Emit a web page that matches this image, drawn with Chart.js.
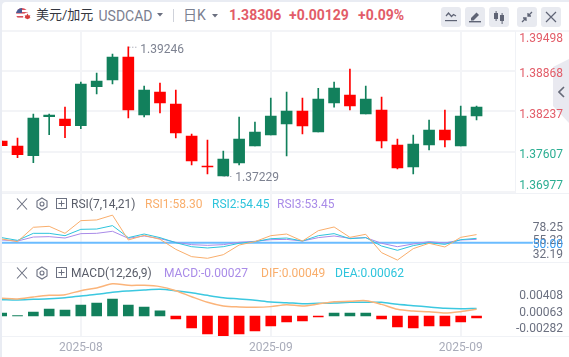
<!DOCTYPE html>
<html>
<head>
<meta charset="utf-8">
<title>USDCAD</title>
<script src="https://cdn.jsdelivr.net/npm/chart.js@4"></script>
<style>
html, body { margin: 0; padding: 0; width: 569px; height: 357px; overflow: hidden; background: #e9ecf3; }
body { font-family: Roboto, "Noto Sans CJK SC", sans-serif; position: relative; }
#panel { position: absolute; left: 2px; top: 2px; width: 567px; height: 355px; background: #fff; border-top-left-radius: 4px; }
canvas { position: absolute; left: 2px; }
.t { position: absolute; white-space: nowrap; line-height: 16px; font-size: 12px; }
.h { position: absolute; background: #f0f2f6; height: 1px; left: 2px; width: 567px; }
.btn { position: absolute; top: 7px; width: 20px; height: 20px; background: #e8eaf0; border-radius: 3px; }
.btn svg, .ico { position: absolute; left: 0; top: 0; }
#tab { position: absolute; left: 553px; top: 59px; width: 16px; height: 64px; background: #e9e9f0; clip-path: polygon(0 8px, 100% 0, 100% 100%, 0 47px); }
#overlay { position: absolute; left: 0; top: 0; }
</style>
</head>
<body>
<div id="panel"></div>
<div class="h" style="top:30px;height:2px;background:#f4f5f8"></div>
<div class="h" style="top:193px"></div>
<div class="h" style="top:262px"></div>
<div class="h" style="top:336px"></div>
<div style="position:absolute;left:515px;top:31px;width:1px;height:162px;background:#f0f2f6"></div>
<div id="tab"></div>
<canvas id="mainChart" width="567" height="163" style="top:30px"></canvas>
<canvas id="rsiChart" width="567" height="69" style="top:193px"></canvas>
<canvas id="macdChart" width="567" height="95" style="top:262px"></canvas>
<div id="overlay"></div>
<script>
// daily candles
const opens = [1.37775, 1.37697, 1.37546, 1.38154, 1.38118, 1.38014, 1.38622, 1.38727, 1.39085, 1.38181, 1.38539, 1.38352, 1.37853, 1.37385, 1.37229, 1.37432, 1.37697, 1.37869, 1.38040, 1.38243, 1.37915, 1.38368, 1.38493, 1.38196, 1.38259, 1.37713, 1.37369, 1.37713, 1.37947, 1.37697, 1.38165];
const closes = [1.37702, 1.37561, 1.38134, 1.38181, 1.38014, 1.38664, 1.38711, 1.39085, 1.38259, 1.38571, 1.38368, 1.37900, 1.37463, 1.37369, 1.37494, 1.37806, 1.37915, 1.38165, 1.38243, 1.38009, 1.38430, 1.38602, 1.38321, 1.38430, 1.37775, 1.37354, 1.37728, 1.37947, 1.37791, 1.38165, 1.38306];
const highs = [1.37775, 1.37822, 1.38196, 1.38196, 1.38305, 1.38695, 1.38836, 1.39132, 1.39246, 1.38633, 1.38680, 1.38571, 1.37884, 1.37791, 1.37619, 1.38149, 1.38071, 1.38446, 1.38539, 1.38446, 1.38597, 1.38695, 1.38898, 1.38633, 1.38461, 1.37806, 1.37869, 1.38103, 1.38259, 1.38321, 1.38321];
const lows = [1.37702, 1.37515, 1.37437, 1.37873, 1.37827, 1.37967, 1.38508, 1.38664, 1.38134, 1.38149, 1.38212, 1.37822, 1.37401, 1.37260, 1.37229, 1.37401, 1.37697, 1.37869, 1.37541, 1.37884, 1.37915, 1.38305, 1.38259, 1.38196, 1.37666, 1.37338, 1.37260, 1.37635, 1.37681, 1.37697, 1.38103];

const rsi1 = [53.8, 51.1, 65.8, 66.8, 59.6, 72.6, 73.3, 78.25, 52.8, 57.5, 53.5, 43.2, 35.7, 34.0, 37.7, 47.6, 51.1, 57.2, 58.9, 51.7, 62.3, 66.1, 55.5, 58.6, 39.8, 32.19, 43.9, 49.4, 45.6, 55.5, 58.30];
const rsi2 = [55.2, 52.4, 59.6, 59.6, 57.2, 63.7, 64.0, 67.5, 55.2, 58.9, 55.2, 50.0, 45.9, 44.6, 45.9, 49.4, 51.1, 54.1, 54.8, 51.7, 57.2, 59.3, 54.1, 55.2, 46.6, 42.2, 47.0, 50.0, 48.3, 53.1, 54.45];
const rsi3 = [52.8, 51.7, 55.8, 56.2, 54.8, 59.3, 59.6, 61.7, 54.5, 56.9, 54.1, 50.4, 48.0, 47.3, 48.0, 50.4, 51.4, 53.1, 53.4, 51.7, 55.2, 56.9, 54.5, 55.2, 49.4, 45.9, 48.7, 51.1, 49.7, 52.8, 53.45];

const macdBars = [0.00042, 0.00007, 0.00056, 0.00099, 0.00085, 0.00155, 0.00183, 0.0024, 0.00155, 0.00127, 0.00071, -0.00042, -0.00169, -0.00254, -0.00282, -0.00254, -0.00212, -0.00141, -0.00085, -0.00071, -0.00014, 0.00042, 0.00042, 0.00042, -0.00042, -0.00155, -0.00169, -0.00141, -0.00141, -0.00085, -0.00027];
const dif = [0.00204, 0.00195, 0.00223, 0.00246, 0.00256, 0.00312, 0.0035, 0.00408, 0.00387, 0.00387, 0.00369, 0.00312, 0.00227, 0.00148, 0.00096, 0.00082, 0.00077, 0.00087, 0.00115, 0.00096, 0.00124, 0.00157, 0.00162, 0.00171, 0.00119, 0.00049, 0.00025, 0.00016, -0.00003, 0.00016, 0.00049];
const dea = [0.00185, 0.00181, 0.0019, 0.00199, 0.00213, 0.00237, 0.0026, 0.00289, 0.00307, 0.00321, 0.00331, 0.00312, 0.00284, 0.00246, 0.00213, 0.00195, 0.00176, 0.00152, 0.00143, 0.00129, 0.00134, 0.00138, 0.00148, 0.00148, 0.00148, 0.00119, 0.00101, 0.00082, 0.00063, 0.00058, 0.00062];

const priceTicks = [1.39498, 1.38868, 1.38237, 1.37607, 1.36977];
const rsiTicks = [78.25, 55.22, 50, 32.19];
const macdTicks = [0.00408, 0.00063, -0.00282];
const xTickIndex = [5, 17, 29];
const xTickLabels = ['2025-08', '2025-09', '2025-09'];
const rsiMid = 50;

const GREEN = '#12805c';
const RED = '#ff0000';
const GRID = '#f3f4f7';
const FONT = { family: 'Roboto', size: 12 };
const xMin = 0.02, xMax = 32.46;
const idx = opens.map((v, i) => i);

function xAxis(show) {
    return {
        type: 'linear', min: xMin, max: xMax, offset: false,
        border: { display: false },
        grid: { color: GRID, lineWidth: 2, drawTicks: false, offset: false },
        afterBuildTicks: s => { s.ticks = xTickIndex.map(v => ({ value: v })); },
        afterFit: s => { s.paddingLeft = 0; s.paddingRight = 0; if (show) s.height = 21; },
        ticks: { display: show, autoSkip: false, maxRotation: 0, padding: 5, color: '#a9acba', font: FONT, callback: (v, i) => xTickLabels[i] }
    };
}
// hidden value axis, only used for mapping
function hiddenY(min, max) {
    return { type: 'linear', position: 'right', min: min, max: max, display: false };
}
// the axis that carries the tick labels on the right
function labelAxis(min, max, values, color, fmt, clamp) {
    return {
        type: 'linear', position: 'right', min: min, max: max,
        border: { display: false },
        grid: { display: false, drawTicks: false },
        afterBuildTicks: s => {
            s.ticks = values.map(v => ({ value: clamp ? Math.min(clamp[1], Math.max(clamp[0], v)) : v }));
        },
        afterFit: s => { s.width = 47.5; s.paddingTop = 0; s.paddingBottom = 0; },
        ticks: { autoSkip: false, crossAlign: 'far', padding: 0, font: FONT, color: color, callback: (v, i) => fmt(values[i]) }
    };
}
const base = { responsive: false, animation: false, layout: { padding: { right: 6 } }, events: [],
    plugins: { legend: { display: false }, tooltip: { enabled: false } } };

// small dotted marker for the highest and lowest price
const extremes = {
    id: 'extremes',
    afterDatasetsDraw(chart) {
        const { ctx, scales } = chart;
        const hi = highs.indexOf(Math.max(...highs));
        const lo = lows.indexOf(Math.min(...lows));
        ctx.save();
        ctx.font = '12px Roboto';
        ctx.textBaseline = 'middle';
        [[hi, highs[hi], 3], [lo, lows[lo], 2]].forEach(([i, v, dy]) => {
            const x = scales.x.getPixelForValue(i);
            const y = scales.y.getPixelForValue(v);
            ctx.strokeStyle = '#8a8f9e';
            ctx.setLineDash([1, 2]);
            ctx.beginPath();
            ctx.moveTo(x + 1, y + 0.5);
            ctx.lineTo(x + 10, y + 0.5);
            ctx.stroke();
            ctx.fillStyle = '#7d8291';
            ctx.fillText(v.toFixed(5), x + 12, y + dy);
        });
        ctx.restore();
    }
};

const candleColor = i => closes[i] >= opens[i] ? GREEN : RED;
const prevClose = closes[closes.length - 2];

new Chart(document.getElementById('mainChart'), {
    type: 'bar',
    data: {
        datasets: [
            { data: idx.map(i => ({ x: i, y: [opens[i], closes[i]] })), backgroundColor: idx.map(candleColor), barThickness: 11, grouped: false, yAxisID: 'y' },
            { data: idx.map(i => ({ x: i, y: [lows[i], highs[i]] })), backgroundColor: idx.map(candleColor), barThickness: 1, grouped: false, yAxisID: 'y' }
        ]
    },
    options: Object.assign({}, base, {
        scales: {
            x: xAxis(false),
            y: {
                type: 'linear', position: 'left', min: 1.36964, max: 1.39507,
                border: { display: false },
                grid: { color: GRID, lineWidth: 2, drawTicks: false },
                afterBuildTicks: s => { s.ticks = priceTicks.map(v => ({ value: v })); },
                afterFit: s => { s.width = 0; s.paddingTop = 0; s.paddingBottom = 0; },
                ticks: { display: false }
            },
            yLabels: labelAxis(1.37021, 1.39560, priceTicks, c => priceTicks[c.index] > prevClose ? '#e25c68' : '#2bae92', v => v.toFixed(5), [1.37133, 1.39420])
        }
    }),
    plugins: [extremes]
});

const lineSet = (values, color, width, tension, axis) => ({
    type: 'line', data: idx.map(i => ({ x: i, y: values[i] })), borderColor: color, borderWidth: width,
    pointRadius: 0, tension: tension, yAxisID: axis, fill: false
});

new Chart(document.getElementById('rsiChart'), {
    type: 'line',
    data: {
        datasets: [
            lineSet(rsi1, '#f9ae6c', 1, 0, 'y'),
            lineSet(rsi2, '#2ec4dc', 1, 0, 'y'),
            lineSet(rsi3, '#a98be8', 1, 0, 'y'),
            { data: [{ x: xMin, y: rsiMid }, { x: 33.56, y: rsiMid }], borderColor: '#6bbcff', borderWidth: 2, pointRadius: 0, yAxisID: 'y', clip: false }
        ]
    },
    options: Object.assign({}, base, {
        scales: {
            x: xAxis(false),
            y: hiddenY(30.22, 100.94),
            yLabels: labelAxis(19.7, 139.2, rsiTicks, c => rsiTicks[c.index] === rsiMid ? '#3d9df0' : '#6b7080', v => v.toFixed(2))
        }
    })
});

new Chart(document.getElementById('macdChart'), {
    type: 'bar',
    data: {
        datasets: [
            lineSet(dif, '#fbb47a', 1.5, 0.3, 'yLine'),
            lineSet(dea, '#3cc8e0', 1.5, 0.3, 'yLine'),
            { data: idx.map(i => ({ x: i, y: macdBars[i] })), backgroundColor: idx.map(i => macdBars[i] >= 0 ? GREEN : RED), barThickness: 10, yAxisID: 'y' }
        ]
    },
    options: Object.assign({}, base, {
        scales: {
            x: xAxis(true),
            y: hiddenY(-0.00282, 0.00761),
            yLine: hiddenY(-0.00327, 0.00716),
            yLabels: labelAxis(-0.00425, 0.01129, macdTicks, '#6b7080', v => v.toFixed(5))
        }
    })
});

// header and pane legends
const last = a => a[a.length - 1];
const ICON = '#5f6475';
const overlay = document.getElementById('overlay');
function text(x, y, str, color, extra) {
    const d = document.createElement('div');
    d.className = 't';
    d.style.cssText = 'left:' + x + 'px;top:' + (y - 8) + 'px;color:' + color + ';' + (extra || '');
    d.textContent = str;
    overlay.appendChild(d);
}
function svg(x, y, w, h, body) {
    const d = document.createElement('div');
    d.style.cssText = 'position:absolute;left:' + x + 'px;top:' + y + 'px;width:' + w + 'px;height:' + h + 'px';
    d.innerHTML = '<svg class="ico" width="' + w + '" height="' + h + '" viewBox="0 0 ' + w + ' ' + h + '">' + body + '</svg>';
    overlay.appendChild(d);
}
function button(x, body) {
    const d = document.createElement('div');
    d.className = 'btn';
    d.style.left = x + 'px';
    d.innerHTML = '<svg width="20" height="20" viewBox="0 0 20 20">' + body + '</svg>';
    overlay.appendChild(d);
}
const HB = 'font-weight:700;font-size:14px;';
svg(16, 8, 17, 14,
    '<clipPath id="c"><circle cx="6" cy="6" r="6"/></clipPath><g clip-path="url(#c)"><rect width="12" height="12" fill="#fff"/>' +
    '<rect y="0" width="12" height="2" fill="#d8505c"/><rect y="4" width="12" height="1.6" fill="#d8505c"/><rect y="8" width="12" height="1.6" fill="#d8505c"/><rect width="6" height="5" fill="#4a5a94"/></g>' +
    '<circle cx="11.5" cy="9" r="4.4" fill="#fff"/><path d="M11.5 5.6l1.2 2 1.6-.4-.6 2 .9.6-3.1 1.4-3.1-1.4.9-.6-.6-2 1.6.4z" fill="#d63c3c"/>');
text(36, 14.5, '美元/加元', '#33363f', 'font-size:13px;');
text(98.5, 15.5, 'USDCAD', '#7b8090', 'font-size:14px;');
svg(157, 13, 6, 4, '<path d="M0 0h6l-3 3.5z" fill="#6b7080"/>');
svg(173, 9, 1, 13, '<rect width="1" height="13" fill="#cfd2da"/>');
text(183, 14.5, '日K', '#7b8090', 'font-size:14px;');
svg(212, 14, 6, 4, '<path d="M0 0h6l-3 3.5z" fill="#6b7080"/>');
text(229, 14.5, last(closes).toFixed(5), '#e25c68', HB);
text(289, 14.5, '+0.00129', '#e25c68', HB);
text(358, 14.5, '+0.09%', '#e25c68', HB);
button(441, '<path d="M5 9l2.5-3 3 3.5 2-2 2.5 1.5" fill="none" stroke="' + ICON + '" stroke-width="1.2"/><rect x="4" y="13" width="12" height="1.2" fill="' + ICON + '"/>');
button(465, '<path d="M6 11l5.5-5.5 2.5 2.5-5.5 5.5H6z" fill="' + ICON + '"/><rect x="4" y="14" width="12" height="1.4" fill="' + ICON + '"/>');
button(489, '<rect x="5" y="6" width="4" height="6" fill="' + ICON + '"/><rect x="6.6" y="4" width="1" height="10" fill="' + ICON + '"/><rect x="11" y="8" width="4" height="6" fill="' + ICON + '"/><rect x="12.6" y="6" width="1" height="11" fill="' + ICON + '"/>');
button(517, '<path d="M15 5l-4 4M11 6v3h3M5 15l4-4M6 11h3v3" fill="none" stroke="' + ICON + '" stroke-width="1.3"/>');
button(541, '<path d="M5 5l10 10M15 5L5 15" stroke="' + ICON + '" stroke-width="1.2"/>');
svg(558, 86, 7, 12, '<path d="M6 1L1 6l5 5" fill="none" stroke="#666a78" stroke-width="1.6"/>');

function paneTools(y) {
    svg(15, y - 7, 14, 14, '<path d="M2 1.5l10 11M12 1.5L2 12.5" stroke="#6b7080" stroke-width="1.1"/>');
    svg(35, y - 7, 14, 14, '<path d="M7 1l5 3v6l-5 3-5-3V4z" fill="none" stroke="#6b7080" stroke-width="1.1"/><circle cx="7" cy="7" r="2" fill="none" stroke="#6b7080" stroke-width="1.1"/>');
    svg(56, y - 6, 12, 12, '<rect x="0.5" y="0.5" width="10" height="10" fill="none" stroke="#6b7080"/><path d="M2.5 5.5h6M5.5 2.5v6" stroke="#6b7080"/>');
}
paneTools(204);
text(71, 204, 'RSI(7,14,21)', '#585c68');
text(145, 204, 'RSI1:' + last(rsi1).toFixed(2), '#f9ae6c');
text(212, 204, 'RSI2:' + last(rsi2).toFixed(2), '#2ec4dc');
text(277, 204, 'RSI3:' + last(rsi3).toFixed(2), '#a98be8');
paneTools(273);
text(71, 273, 'MACD(12,26,9)', '#585c68');
text(164, 273, 'MACD:' + last(macdBars).toFixed(5), '#a98be8');
text(261, 273, 'DIF:' + last(dif).toFixed(5), '#f9ae6c');
text(335, 273, 'DEA:' + last(dea).toFixed(5), '#2ec4dc');
</script>
</body>
</html>
